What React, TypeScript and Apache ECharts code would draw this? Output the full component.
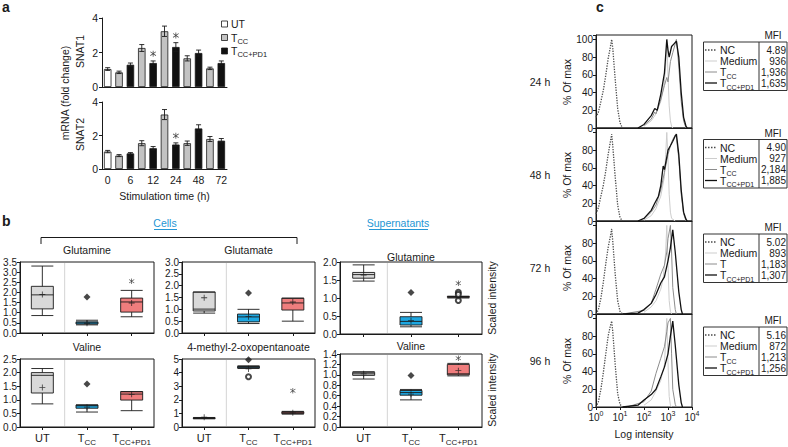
import React, { useEffect, useRef } from 'react';
import * as echarts from 'echarts';

const FONT = '"Liberation Sans", Arial, Helvetica, sans-serif';
const INK = '#1a1a1a';

// ---------- Panel a: SNAT1 / SNAT2 mRNA ----------
const timeLabels = ['0', '', '6', '', '12', '', '24', '', '48', '', '72'];
const conditionOfBar = [0, 1, 2, 1, 2, 1, 2, 1, 2, 1, 2];
const conditions = ['UT', 'TCC', 'TCC+PD1'];
const snat1Mean = [1.04, 0.85, 1.29, 2.26, 1.39, 3.23, 2.32, 1.66, 1.97, 1.08, 1.39];
const snat1Err = [0.08, 0.07, 0.1, 0.2, 0.12, 0.3, 0.25, 0.15, 0.17, 0.07, 0.12];
const snat1StarBars = [4, 6];
const snat2Mean = [1.04, 0.8, 0.93, 1.54, 1.24, 3.25, 1.46, 1.54, 2.42, 1.79, 1.69];
const snat2Err = [0.07, 0.06, 0.05, 0.15, 0.1, 0.3, 0.1, 0.13, 0.22, 0.15, 0.13];
const snat2StarBars = [6];

// ---------- Panel b: metabolite box plots ----------
const boxCats = ['UT', 'TCC', 'TCC+PD1'];
// [min, Q1, median, Q3, max]
const cellsGlnBox = [[0.86, 1.19, 1.88, 2.3, 3.3], [0.4, 0.44, 0.5, 0.55, 0.63], [0.8, 1.03, 1.53, 1.72, 2.1]];
const cellsGlnMean = [1.9, 0.48, 1.48];
const cellsGlnDiamond = [[1, 1.77]];
const cellsGlnCircle: number[][] = [];
const cellsGlnStar = [[2, 2.55]];

const cellsValBox = [[0.85, 1.25, 1.9, 2.0, 2.15], [0.55, 0.69, 0.78, 0.81, 0.81], [0.6, 0.99, 1.21, 1.3, 1.3]];
const cellsValMean = [1.45, 0.73, 1.2];
const cellsValDiamond = [[1, 1.58]];
const cellsValCircle: number[][] = [];
const cellsValStar: number[][] = [];

const cellsGluBox = [[0.84, 0.93, 1.01, 1.73, 1.73], [0.4, 0.47, 0.68, 0.8, 1.0], [0.5, 0.97, 1.27, 1.47, 1.47]];
const cellsGluMean = [1.49, 0.69, 1.31];
const cellsGluDiamond = [[1, 1.69]];
const cellsGluCircle: number[][] = [];
const cellsGluStar: number[][] = [];

const cellsKicBox = [[0.6, 0.63, 0.65, 0.67, 0.7], [4.3, 4.35, 4.4, 4.45, 4.5], [0.95, 0.98, 1.05, 1.12, 1.15]];
const cellsKicMean = [0.72, 4.27, 1.04];
const cellsKicDiamond = [[1, 4.95]];
const cellsKicCircle = [[1, 3.7]];
const cellsKicStar = [[2, 2.67]];

const supGlnBox = [[1.47, 1.55, 1.65, 1.71, 1.92], [0.2, 0.25, 0.35, 0.48, 0.6], [1.0, 1.02, 1.03, 1.04, 1.05]];
const supGlnMean = [1.64, 0.37, 1.03];
const supGlnDiamond = [[1, 1.15]];
const supGlnCircle = [[2, 1.16], [2, 1.1], [2, 0.93]];
const supGlnStar = [[2, 1.41]];

const supValBox = [[0.92, 0.99, 1.02, 1.05, 1.06], [0.52, 0.61, 0.66, 0.7, 0.72], [0.98, 1.0, 1.02, 1.2, 1.22]];
const supValMean = [1.02, 0.63, 1.08];
const supValDiamond = [[1, 0.99]];
const supValCircle: number[][] = [];
const supValStar = [[2, 1.32]];

// ---------- Panel c: flow cytometry histograms [intensity, % of max] ----------
const nc24 = [[1, 12], [1.26, 18], [1.6, 30], [2, 42], [2.5, 58], [3.2, 78], [4, 92], [4.5, 100], [5, 90], [6.3, 55], [8, 22], [10, 6], [12.6, 0]];
const med24 = [[100, 2], [200, 8], [316, 16], [500, 30], [710, 52], [800, 70], [890, 100], [1000, 60], [1120, 25], [1260, 8], [1410, 2], [1580, 0]];
const tcc24 = [[100, 3], [200, 10], [280, 18], [316, 16], [500, 32], [710, 48], [890, 57], [1000, 52], [1260, 75], [1580, 85], [2000, 95], [2240, 100], [2820, 70], [3550, 30], [4470, 8], [5620, 0]];
const pd24 = [[56, 0], [100, 4], [200, 14], [280, 22], [355, 20], [500, 38], [710, 62], [890, 100], [1000, 88], [1120, 80], [1410, 92], [1780, 95], [2240, 98], [2820, 80], [3550, 40], [4470, 12], [5620, 2], [6300, 0]];

const nc48 = [[1, 8], [1.26, 15], [1.6, 28], [2, 40], [2.5, 55], [3.2, 75], [4, 90], [4.5, 98], [5, 85], [6.3, 50], [8, 18], [10, 4], [12.6, 0]];
const med48 = [[100, 1], [200, 6], [316, 14], [500, 28], [710, 50], [800, 75], [890, 100], [1000, 70], [1120, 30], [1260, 10], [1410, 3], [2000, 0]];
const tcc48 = [[100, 2], [200, 10], [316, 18], [500, 35], [710, 55], [890, 68], [1000, 75], [1260, 85], [1580, 92], [2000, 97], [2240, 95], [2820, 70], [3550, 30], [4470, 8], [5620, 0]];
const pd48 = [[56, 0], [100, 3], [200, 12], [280, 20], [400, 28], [500, 40], [630, 62], [710, 58], [890, 72], [1000, 80], [1260, 85], [1580, 90], [2000, 96], [2240, 98], [2820, 75], [3550, 35], [4470, 10], [5620, 2], [6300, 0]];

const nc72 = [[1, 0], [1.26, 5], [1.6, 18], [2, 35], [2.5, 55], [3.2, 75], [4, 88], [4.5, 96], [5, 82], [6.3, 45], [8, 15], [10, 3], [12.6, 0]];
const med72 = [[100, 2], [200, 8], [316, 15], [500, 28], [630, 40], [800, 70], [890, 100], [1000, 55], [1120, 15], [1260, 3], [1410, 0]];
const tcc72 = [[13, 0], [100, 4], [200, 12], [316, 28], [500, 45], [710, 55], [890, 70], [1000, 85], [1260, 100], [1410, 70], [1580, 30], [2000, 5], [2240, 0]];
const pd72 = [[13, 0], [56, 1], [100, 5], [200, 12], [316, 22], [500, 35], [710, 42], [1000, 60], [1260, 75], [1580, 95], [2000, 70], [2820, 25], [3550, 5], [4000, 0]];

const nc96 = [[1, 0], [1.26, 6], [1.6, 20], [2, 38], [2.5, 58], [3.2, 80], [4, 92], [4.5, 97], [5, 85], [6.3, 48], [8, 15], [10, 3], [12.6, 0]];
const med96 = [[100, 2], [200, 8], [316, 18], [500, 30], [710, 48], [890, 100], [1000, 50], [1120, 12], [1260, 2], [1410, 0]];
const tcc96 = [[20, 0], [100, 6], [200, 18], [316, 38], [500, 55], [710, 68], [890, 85], [1000, 95], [1260, 100], [1410, 60], [1580, 20], [2000, 3], [2240, 0]];
const pd96 = [[13, 0], [56, 2], [100, 8], [200, 14], [316, 20], [500, 34], [710, 45], [1000, 60], [1260, 80], [1580, 97], [2000, 70], [2820, 25], [3550, 5], [4000, 0]];

const timePoints = ['24 h', '48 h', '72 h', '96 h'];
const mfiRowNames = [
  ['NC', 'Medium', 'TCC', 'TCC+PD1'],
  ['NC', 'Medium', 'TCC', 'TCC+PD1'],
  ['NC', 'Medium', 'T', 'TCC+PD1'],
  ['NC', 'Medium', 'TCC', 'TCC+PD1'],
];
const mfiValues = [
  ['4.89', '936', '1,936', '1,635'],
  ['4.90', '927', '2,184', '1,885'],
  ['5.02', '893', '1,183', '1,307'],
  ['5.16', '872', '1,213', '1,256'],
];

function subName(n: string) {
  if (n === 'TCC') return '{t|T}{s|CC}';
  if (n === 'TCC+PD1') return '{t|T}{s|CC+PD1}';
  return '{t|' + n + '}';
}

const STAR_PATH = 'path://M4.4,0H5.6V10H4.4Z M0.3,2.3L0.9,1.3L9.7,7.7L9.1,8.7Z M0.3,7.7L9.1,1.3L9.7,2.3L0.9,8.7Z';
const PLUS_PATH = 'path://M4.3,0H5.7V4.3H10V5.7H5.7V10H4.3V5.7H0V4.3H4.3Z';

function buildOption() {
  const grid: any[] = [];
  const xAxis: any[] = [];
  const yAxis: any[] = [];
  const series: any[] = [];
  const graphic: any[] = [];
  const axLine = { color: INK, width: 1 };

  const text = (x: number, y: number, str: string, o: any = {}) => ({
    type: 'text', x, y, rotation: o.rot || 0, silent: true, z: 100,
    style: {
      text: str, fill: o.color || INK, fontSize: o.size || 10, fontFamily: FONT,
      fontWeight: o.bold ? 'bold' : 'normal',
      align: o.align || 'center', verticalAlign: 'middle',
      textAlign: o.align || 'center', textVerticalAlign: 'middle',
      lineHeight: o.lh, rich: o.rich,
    },
  });
  const seg = (x1: number, y1: number, x2: number, y2: number, o: any = {}) => ({
    type: 'line', silent: true, z: 100, shape: { x1, y1, x2, y2 },
    style: { stroke: o.color || INK, lineWidth: o.w || 1, lineDash: o.dash },
  });
  const gRich = (main: number, sub: number) => ({
    t: { fontSize: main, lineHeight: main + 5, fontFamily: FONT, fill: INK, color: INK },
    s: { fontSize: sub, lineHeight: sub + 1, verticalAlign: 'bottom', fontFamily: FONT, fill: INK, color: INK },
  });
  const axisRich = {
    t: { fontSize: 11, lineHeight: 16, fontFamily: FONT, color: INK },
    s: { fontSize: 8, lineHeight: 9, verticalAlign: 'bottom', fontFamily: FONT, color: INK },
  };
  const starSeries = (gi: number, data: number[][], size = 6) => ({
    type: 'scatter', xAxisIndex: gi, yAxisIndex: gi, data, symbol: STAR_PATH, symbolSize: size,
    itemStyle: { color: INK }, z: 6,
  });

  // ---------------- Panel a ----------------
  const barColors = ['#ffffff', '#c3c3c3', '#111111'];
  const errRender = (params: any, api: any) => {
    const x = api.value(0), m = api.value(1), e = api.value(2);
    const hi = api.coord([x, m + e]);
    const lo = api.coord([x, m - e]);
    const cap = 2.5;
    const st = { stroke: INK, lineWidth: 0.9 };
    return {
      type: 'group', children: [
        { type: 'line', shape: { x1: hi[0], y1: hi[1], x2: lo[0], y2: lo[1] }, style: st },
        { type: 'line', shape: { x1: hi[0] - cap, y1: hi[1], x2: hi[0] + cap, y2: hi[1] }, style: st },
        { type: 'line', shape: { x1: lo[0] - cap, y1: lo[1], x2: lo[0] + cap, y2: lo[1] }, style: st },
      ],
    };
  };
  const aDefs = [
    { mean: snat1Mean, err: snat1Err, stars: snat1StarBars, top: 18, height: 69, showX: false, name: 'SNAT1' },
    { mean: snat2Mean, err: snat2Err, stars: snat2StarBars, top: 102, height: 67, showX: true, name: 'SNAT2' },
  ];
  aDefs.forEach((d) => {
    const gi = grid.length;
    grid.push({ left: 102, top: d.top, width: 125, height: d.height });
    xAxis.push({
      gridIndex: gi, type: 'category', data: timeLabels,
      axisLine: { lineStyle: axLine }, axisTick: { show: false },
      axisLabel: { show: d.showX, interval: 0, fontSize: 10.5, color: INK, fontFamily: FONT, margin: 5 },
      name: d.showX ? 'Stimulation time (h)' : '', nameLocation: 'middle', nameGap: 21,
      nameTextStyle: { fontSize: 10.5, color: INK, fontFamily: FONT },
    });
    yAxis.push({
      gridIndex: gi, type: 'value', min: 0, max: 4, interval: 2,
      axisLine: { show: true, lineStyle: axLine }, axisTick: { show: true, length: 3, lineStyle: axLine },
      splitLine: { show: false },
      axisLabel: { fontSize: 10.5, color: INK, fontFamily: FONT, margin: 4 },
    });
    series.push({
      type: 'bar', xAxisIndex: gi, yAxisIndex: gi, barWidth: '66%',
      data: d.mean.map((v, i) => ({ value: v, itemStyle: { color: barColors[conditionOfBar[i]] } })),
      itemStyle: { borderColor: INK, borderWidth: 0.8 },
    });
    series.push({
      type: 'custom', xAxisIndex: gi, yAxisIndex: gi, z: 5,
      data: d.mean.map((v, i) => [i, v, d.err[i]]), renderItem: errRender,
    });
    series.push(starSeries(gi, d.stars.map((i) => [i, d.mean[i] + d.err[i] + 0.42]), 6));
    graphic.push(text(80, d.top + d.height / 2 - 1, d.name, { rot: Math.PI / 2, size: 10.5 }));
  });
  graphic.push(text(65, 93, 'mRNA (fold change)', { rot: Math.PI / 2, size: 10.5 }));
  // legend
  conditions.forEach((c, i) => {
    const y = 24 + i * 13.5;
    graphic.push({ type: 'rect', silent: true, z: 100, shape: { x: 221.5, y: y - 3, width: 6, height: 6 }, style: { fill: barColors[i], stroke: INK, lineWidth: 0.8 } });
    graphic.push(text(231, y, subName(c), { align: 'left', rich: gRich(10.5, 7.5) }));
  });

  // ---------------- Panel b ----------------
  const boxColors = ['#d9d9d9', '#1ea7e1', '#ef7d7d'];
  const bPlots = [
    { title: 'Glutamine', ty: 250, box: cellsGlnBox, mean: cellsGlnMean, dia: cellsGlnDiamond, cir: cellsGlnCircle, star: cellsGlnStar, max: 3.5, step: 0.5, dec: 1, left: 20, top: 262, width: 134, height: 71, labels: false },
    { title: 'Valine', ty: 347, box: cellsValBox, mean: cellsValMean, dia: cellsValDiamond, cir: cellsValCircle, star: cellsValStar, max: 2.5, step: 0.5, dec: 1, left: 20, top: 359, width: 134, height: 68, labels: true },
    { title: 'Glutamate', ty: 250, box: cellsGluBox, mean: cellsGluMean, dia: cellsGluDiamond, cir: cellsGluCircle, star: cellsGluStar, max: 3.0, step: 0.5, dec: 1, left: 182, top: 262, width: 133, height: 71, labels: false },
    { title: '4-methyl-2-oxopentanoate', ty: 347, box: cellsKicBox, mean: cellsKicMean, dia: cellsKicDiamond, cir: cellsKicCircle, star: cellsKicStar, max: 5, step: 1, dec: 0, left: 182, top: 359, width: 133, height: 68, labels: true },
    { title: 'Glutamine', ty: 257, box: supGlnBox, mean: supGlnMean, dia: supGlnDiamond, cir: supGlnCircle, star: supGlnStar, max: 2.0, step: 0.5, dec: 1, left: 340, top: 262, width: 142, height: 72, labels: false },
    { title: 'Valine', ty: 346, box: supValBox, mean: supValMean, dia: supValDiamond, cir: supValCircle, star: supValStar, max: 1.4, step: 0.2, dec: 1, left: 340, top: 354, width: 142, height: 73, labels: true },
  ];
  bPlots.forEach((p) => {
    const gi = grid.length;
    grid.push({ left: p.left, top: p.top, width: p.width, height: p.height, show: true, borderColor: INK, borderWidth: 1, backgroundColor: 'rgba(0,0,0,0)' });
    xAxis.push({
      gridIndex: gi, type: 'category', data: boxCats,
      axisLine: { lineStyle: axLine },
      axisTick: { show: true, alignWithLabel: true, length: 3, lineStyle: axLine },
      axisLabel: { show: p.labels, interval: 0, margin: 3, formatter: (v: string) => subName(v), rich: axisRich },
      splitLine: { show: false },
    });
    yAxis.push({
      gridIndex: gi, type: 'value', min: 0, max: p.max, interval: p.step,
      axisLine: { show: true, lineStyle: axLine }, axisTick: { show: true, length: 3, lineStyle: axLine },
      splitLine: { show: false },
      axisLabel: { fontSize: 10, color: INK, fontFamily: FONT, margin: 3, formatter: (v: number) => v.toFixed(p.dec) },
    });
    series.push({
      type: 'boxplot', xAxisIndex: gi, yAxisIndex: gi, boxWidth: [22, 22],
      data: p.box.map((b, i) => ({ value: b, itemStyle: { color: boxColors[i], borderColor: INK, borderWidth: 0.9 } })),
    });
    series.push({ type: 'scatter', xAxisIndex: gi, yAxisIndex: gi, z: 5, symbol: PLUS_PATH, symbolSize: 6, itemStyle: { color: INK }, data: p.mean.map((m, i) => [i, m]) });
    if (p.dia.length) series.push({ type: 'scatter', xAxisIndex: gi, yAxisIndex: gi, z: 5, symbol: 'diamond', symbolSize: 7, itemStyle: { color: INK }, data: p.dia });
    if (p.cir.length) series.push({ type: 'scatter', xAxisIndex: gi, yAxisIndex: gi, z: 5, symbol: 'emptyCircle', symbolSize: 5, itemStyle: { color: INK, borderColor: INK, borderWidth: 1 }, data: p.cir });
    if (p.star.length) series.push(starSeries(gi, p.star, 5.5));
    graphic.push(seg(p.left + p.width / 3, p.top + 1, p.left + p.width / 3, p.top + p.height - 1, { color: '#d4d4d4' }));
    graphic.push(text(p.left + p.width / 2, p.ty, p.title, { size: 10.5 }));
  });
  // group headers
  graphic.push(text(165, 223, 'Cells', { size: 10.5, color: '#2596d4' }));
  graphic.push(seg(154, 229.5, 177, 229.5, { color: '#2596d4' }));
  graphic.push(text(398, 223, 'Supernatants', { size: 10.5, color: '#2596d4' }));
  graphic.push(seg(369, 229.5, 428, 229.5, { color: '#2596d4' }));
  graphic.push({ type: 'polyline', silent: true, z: 100, shape: { points: [[41, 244], [41, 237.5], [297, 237.5], [297, 244]] }, style: { stroke: INK, lineWidth: 1, fill: 'none' } });
  graphic.push(text(492, 298, 'Scaled intensity', { rot: Math.PI / 2, size: 10.5 }));
  graphic.push(text(492, 390, 'Scaled intensity', { rot: Math.PI / 2, size: 10.5 }));

  // ---------------- Panel c ----------------
  const hists = [
    [nc24, med24, tcc24, pd24],
    [nc48, med48, tcc48, pd48],
    [nc72, med72, tcc72, pd72],
    [nc96, med96, tcc96, pd96],
  ];
  const histStyles = [
    { color: '#4a4a4a', type: 'dotted', width: 1.3 },
    { color: '#cdcdcd', type: 'solid', width: 1 },
    { color: '#8c8c8c', type: 'solid', width: 1 },
    { color: '#111111', type: 'solid', width: 1.3 },
  ];
  const cTops = [35, 128, 221, 314];
  const tableTops = [42, 139.5, 234, 327];
  hists.forEach((curves, k) => {
    const gi = grid.length;
    const last = k === hists.length - 1;
    const top = cTops[k];
    grid.push({ left: 596, top, width: 96, height: 93, show: true, borderColor: INK, borderWidth: 1, backgroundColor: 'rgba(0,0,0,0)' });
    xAxis.push({
      gridIndex: gi, type: 'log', logBase: 10, min: 1, max: 10000,
      axisLine: { lineStyle: axLine }, axisTick: { show: last, length: 3, lineStyle: axLine },
      axisLabel: {
        show: last, margin: 3, formatter: (v: number) => '{t|10}{p|' + Math.round(Math.log10(v)) + '}',
        rich: {
          t: { fontSize: 10, lineHeight: 15, fontFamily: FONT, color: INK },
          p: { fontSize: 7, lineHeight: 8, verticalAlign: 'top', fontFamily: FONT, color: INK },
        },
      },
      splitLine: { show: false },
      name: last ? 'Log intensity' : '', nameLocation: 'middle', nameGap: 21,
      nameTextStyle: { fontSize: 10.5, color: INK, fontFamily: FONT },
    });
    yAxis.push({
      gridIndex: gi, type: 'value', min: 0, max: 105, interval: 20,
      axisLine: { show: true, lineStyle: axLine }, axisTick: { show: true, length: 3, lineStyle: axLine },
      splitLine: { show: false },
      axisLabel: {
        fontSize: 10, color: INK, fontFamily: FONT, margin: 3,
        formatter: (v: number) => (v % 20 === 0 && (k === 0 || v < 100) ? String(v) : ''),
      },
    });
    curves.forEach((c, j) => {
      series.push({
        type: 'line', xAxisIndex: gi, yAxisIndex: gi, showSymbol: false, symbol: 'none',
        lineStyle: histStyles[j], data: c, z: 3 + j,
      });
    });
    graphic.push(text(540, top + 47, timePoints[k], { size: 10.5 }));
    graphic.push(text(567, top + 47, '% Of max', { rot: Math.PI / 2, size: 10.5 }));

    // MFI table
    const tt = tableTops[k];
    graphic.push(text(773, tt - 6.5, 'MFI', { size: 10 }));
    graphic.push({ type: 'rect', silent: true, z: 100, shape: { x: 703.5, y: tt, width: 83.5, height: 48.5 }, style: { fill: 'none', stroke: '#333', lineWidth: 1 } });
    graphic.push(seg(759, tt, 759, tt + 48.5, { color: '#333' }));
    const rowOff = [8, 19, 30, 41];
    mfiRowNames[k].forEach((nm, r) => {
      const y = tt + rowOff[r];
      const st = histStyles[r];
      graphic.push(seg(705, y, 717, y, { color: st.color, w: st.width, dash: st.type === 'dotted' ? [1.5, 1.5] : undefined }));
      graphic.push(text(720, y, subName(nm), { align: 'left', rich: gRich(10.5, 7) }));
      graphic.push(text(786, y, mfiValues[k][r], { align: 'right', size: 10 }));
    });
  });

  // panel letters
  graphic.push(text(2, 7, 'a', { align: 'left', size: 14, bold: true }));
  graphic.push(text(2, 221, 'b', { align: 'left', size: 14, bold: true }));
  graphic.push(text(596, 7, 'c', { align: 'left', size: 14, bold: true }));

  return { animation: false, backgroundColor: '#ffffff', grid, xAxis, yAxis, series, graphic };
}

export default function App() {
  const ref = useRef<HTMLDivElement>(null);
  useEffect(() => {
    const chart = echarts.init(ref.current as HTMLDivElement, null, { renderer: 'svg' });
    chart.setOption(buildOption() as any);
    return () => chart.dispose();
  }, []);
  return (
    <div
      ref={ref}
      style={{ position: 'absolute', left: 0, top: 0, width: 788, height: 447, background: '#fff' }}
    />
  );
}
